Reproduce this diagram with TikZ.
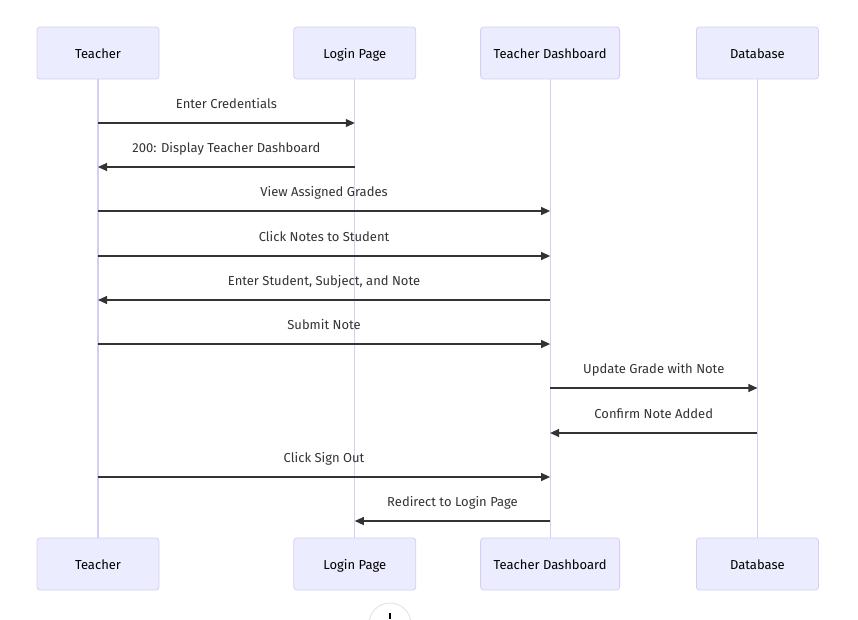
\documentclass[tikz,border=0pt]{standalone}
\usepackage{fontspec}
\setmainfont{Fira Sans}
\usetikzlibrary{positioning,arrows.meta}
\definecolor{actorfill}{RGB}{236,236,255}
\definecolor{actorline}{RGB}{214,206,244}
\definecolor{msgline}{RGB}{51,51,51}
\begin{document}
\begin{tikzpicture}[x=1pt, y=-1pt, node distance=135pt,
  actor/.style={rectangle, draw=actorline, fill=actorfill, rounded corners=3pt, minimum height=52pt, minimum width=122pt, text height=10pt, text depth=0pt, font=\fontsize{13}{15}\selectfont, line width=0.8pt},
  life/.style={draw=actorline, line width=1.2pt},
  msg/.style={draw=msgline, line width=1.2pt, -{Triangle[length=9pt, width=8pt]}},
  lbl/.style={above, yshift=8pt, text height=9pt, text depth=3pt, font=\fontsize{13}{15}\selectfont, text=msgline}]
  \useasboundingbox (0,0) rectangle (858,619);

  % participants on top
  \node[actor] (teacher) at (98,53) {Teacher};
  \node[actor, right=134pt of teacher] (login) {Login Page};
  \node[actor, right=64pt of login, minimum width=139pt] (dash) {Teacher Dashboard};
  \node[actor, right=76pt of dash] (db) {Database};

  % participants at the bottom
  \node[actor] (teacherB) at (98,564) {Teacher};
  \node[actor, right=134pt of teacherB] (loginB) {Login Page};
  \node[actor, right=64pt of loginB, minimum width=139pt] (dashB) {Teacher Dashboard};
  \node[actor, right=76pt of dashB] (dbB) {Database};

  % lifelines
  \draw[life] (teacher) -- (teacherB);
  \draw[life] (login) -- (loginB);
  \draw[life] (dash) -- (dashB);
  \draw[life] (db) -- (dbB);

  % messages
  \draw[msg] (teacher |- 0,123) -- node[lbl] {Enter Credentials} (login |- 0,123);
  \draw[msg] (login |- 0,167) -- node[lbl] {200: Display Teacher Dashboard} (teacher |- 0,167);
  \draw[msg] (teacher |- 0,211) -- node[lbl] {View Assigned Grades} (dash |- 0,211);
  \draw[msg] (teacher |- 0,256) -- node[lbl] {Click Notes to Student} (dash |- 0,256);
  \draw[msg] (dash |- 0,300) -- node[lbl] {Enter Student, Subject, and Note} (teacher |- 0,300);
  \draw[msg] (teacher |- 0,344) -- node[lbl] {Submit Note} (dash |- 0,344);
  \draw[msg] (dash |- 0,388) -- node[lbl] {Update Grade with Note} (db |- 0,388);
  \draw[msg] (db |- 0,433) -- node[lbl] {Confirm Note Added} (dash |- 0,433);
  \draw[msg] (teacher |- 0,477) -- node[lbl] {Click Sign Out} (dash |- 0,477);
  \draw[msg] (dash |- 0,521) -- node[lbl] {Redirect to Login Page} (login |- 0,521);

  % zoom button, cut off at the edge
  \draw[black!12, line width=0.8pt] (390,624) circle (21pt);
  \draw[black, line width=1.5pt] (390,613) -- (390,619);
\end{tikzpicture}
\end{document}
